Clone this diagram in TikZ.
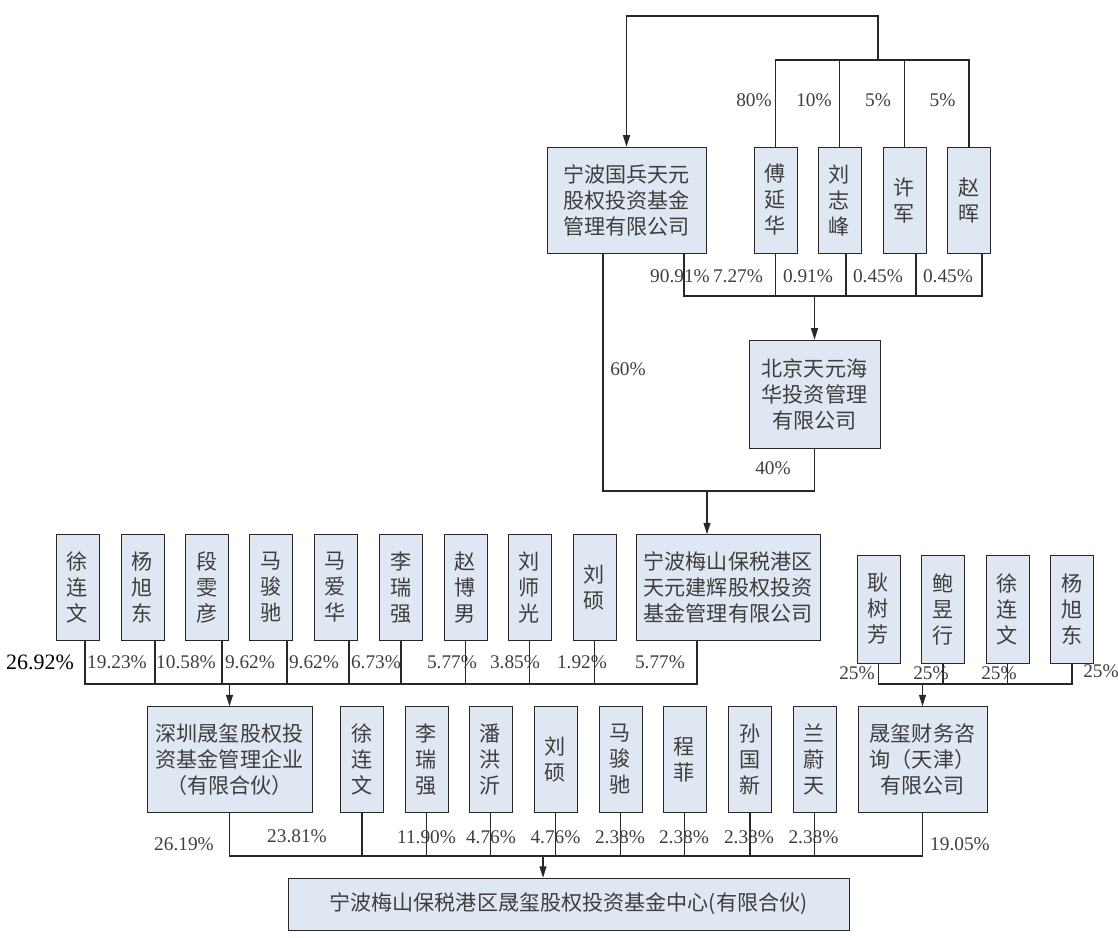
\documentclass[tikz,border=0pt]{standalone}
\usepackage{fontspec}
\setmainfont{Liberation Serif}
\newfontfamily\cjk{Noto Sans CJK SC}
\usetikzlibrary{arrows.meta}
\definecolor{boxfill}{RGB}{223,231,242}
\definecolor{linec}{RGB}{40,40,40}
\definecolor{txt}{RGB}{62,62,62}

\begin{document}
\begin{tikzpicture}[x=0.02cm, y=-0.02cm,
  box/.style={draw=linec, fill=boxfill, text=txt, font=\cjk\fontsize{12}{14.8}\selectfont, align=center, inner sep=0pt, minimum height=2.12cm},
  person/.style={box, minimum width=0.86cm},
  pct/.style={font=\fontsize{11}{13}\selectfont, text=txt, inner sep=0pt},
  link/.style={draw=linec, line width=0.6pt},
  arr/.style={link, -{Triangle[length=6.5pt,width=4pt]}}]
\useasboundingbox (0,0) rectangle (1118,937);

\node[box, minimum width=3.18cm] (gb) at (626.5,200) {宁波国兵天元\\股权投资基金\\管理有限公司};
\node[person] (fyh) at (775.5,200) {傅\\延\\华};
\node[person] (lzf) at (839.5,200) {刘\\志\\峰};
\node[person] (xj) at (904.5,200) {许\\军};
\node[person] (zh) at (969,200) {赵\\晖};
\node[box, minimum width=2.62cm, minimum height=2.16cm] (bj) at (814.5,394) {北京天元海\\华投资管理\\有限公司};

\node[person] (xlw1) at (77.5,587.5) {徐\\连\\文};
\node[person] (yxd1) at (142.5,587.5) {杨\\旭\\东};
\node[person] (dwy) at (207,587.5) {段\\雯\\彦};
\node[person] (mjc1) at (271,587.5) {马\\骏\\驰};
\node[person] (mah) at (335.5,587.5) {马\\爱\\华};
\node[person] (lrq1) at (401,587.5) {李\\瑞\\强};
\node[person] (zbn) at (465.5,587.5) {赵\\博\\男};
\node[person] (lsg) at (529.5,587.5) {刘\\师\\光};
\node[person] (ls1) at (594.5,587.5) {刘\\硕};
\node[box, minimum width=3.68cm] (jh) at (728,587.5) {宁波梅山保税港区\\天元建辉股权投资\\基金管理有限公司};

\node[person, minimum height=2.16cm] (gsf) at (878.5,609) {耿\\树\\芳};
\node[person, minimum height=2.16cm] (byx) at (943,609) {鲍\\昱\\行};
\node[person, minimum height=2.16cm] (xlw2) at (1007.5,609) {徐\\连\\文};
\node[person, minimum height=2.16cm] (yxd2) at (1072,609) {杨\\旭\\东};

\node[box, minimum width=3.3cm] (sz) at (229.5,759.5) {深圳晟玺股权投\\资基金管理企业\\（有限合伙）};
\node[person] (xlw3) at (362,759.5) {徐\\连\\文};
\node[person] (lrq2) at (426.5,759.5) {李\\瑞\\强};
\node[person] (phy) at (490.5,759.5) {潘\\洪\\沂};
\node[person] (ls2) at (555.5,759.5) {刘\\硕};
\node[person] (mjc2) at (620.5,759.5) {马\\骏\\驰};
\node[person] (cf) at (684.5,759.5) {程\\菲};
\node[person] (sgx) at (750,759.5) {孙\\国\\新};
\node[person] (lwt) at (814.5,759.5) {兰\\蔚\\天};
\node[box, minimum width=2.58cm] (cw) at (922.5,759.5) {晟玺财务咨\\询（天津）\\有限公司};

\node[box, minimum width=11.22cm, minimum height=1.04cm] (big) at (568.5,904) {宁波梅山保税港区晟玺股权投资基金中心(有限合伙)};

\coordinate (own) at (878,60);
\coordinate (top) at (878,16);
\coordinate (busA) at (814.5,296);
\coordinate (busB) at (707,491);
\coordinate (busC) at (229.5,684);
\coordinate (busD) at (922.5,684);
\coordinate (busE) at (543,856);

\draw[arr] (own) -- (top) -| (gb.north);
\draw[link] (fyh.north) |- (own) -| (zh.north);
\draw[link] (lzf.north) -- (lzf.north |- own);
\draw[link] (xj.north) -- (xj.north |- own);

\draw[link] (gb.south -| 684,0) -- (684,296) -- (982,296) -- (zh.south -| 982,0);
\draw[link] (fyh.south) -- (fyh.south |- busA);
\draw[link] (lzf.south -| 846,0) -- (846,296);
\draw[link] (xj.south -| 916,0) -- (916,296);
\draw[arr] (busA) -- (bj.north);

\draw[link] (gb.south -| 603,0) |- (busB) -| (bj.south);
\draw[arr] (busB) -- (jh.north -| busB);

\draw[link] (xlw1.south -| 85,0) -- (85,684) -- (697,684) -- (jh.south -| 697,0);
\draw[link] (yxd1.south -| 155,0) -- (155,684);
\draw[link] (dwy.south -| 222,0) -- (222,684);
\draw[link] (mjc1.south -| 287,0) -- (287,684);
\draw[link] (mah.south -| 349,0) -- (349,684);
\draw[link] (lrq1.south) -- (lrq1.south |- busC);
\draw[link] (zbn.south) -- (zbn.south |- busC);
\draw[link] (lsg.south) -- (lsg.south |- busC);
\draw[link] (ls1.south) -- (ls1.south |- busC);
\draw[arr] (busC) -- (sz.north);

\draw[link] (gsf.south) |- (busD) -| (yxd2.south);
\draw[link] (byx.south) -- (byx.south |- busD);
\draw[link] (xlw2.south) -- (xlw2.south |- busD);
\draw[arr] (busD) -- (cw.north);

\draw[link] (sz.south) |- (busE) -| (cw.south);
\draw[link] (xlw3.south) -- (xlw3.south |- busE);
\draw[link] (lrq2.south) -- (lrq2.south |- busE);
\draw[link] (phy.south) -- (phy.south |- busE);
\draw[link] (ls2.south) -- (ls2.south |- busE);
\draw[link] (mjc2.south) -- (mjc2.south |- busE);
\draw[link] (cf.south) -- (cf.south |- busE);
\draw[link] (sgx.south) -- (sgx.south |- busE);
\draw[link] (lwt.south) -- (lwt.south |- busE);
\draw[arr] (busE) -- (big.north -| busE);

\node[pct] (pa1) at (754,100) {80\%};
\node[pct] (pa2) at (814,100) {10\%};
\node[pct] (pa3) at (878,100) {5\%};
\node[pct] (pa4) at (942.5,100) {5\%};

\node[pct] (pb1) at (680,276) {90.91\%};
\node[pct] (pb2) at (738,276) {7.27\%};
\node[pct] (pb3) at (808,276) {0.91\%};
\node[pct] (pb4) at (878,276) {0.45\%};
\node[pct] (pb5) at (948,276) {0.45\%};
\node[pct] (pc1) at (628,369) {60\%};
\node[pct] (pc2) at (773,468) {40\%};

\node[pct, text=black, font=\fontsize{12.5}{14}\selectfont] (pd1) at (40,662) {26.92\%};
\node[pct] (pd2) at (117,662) {19.23\%};
\node[pct] (pd3) at (186,662) {10.58\%};
\node[pct] (pd4) at (250,662) {9.62\%};
\node[pct] (pd5) at (314,662) {9.62\%};
\node[pct] (pd6) at (376,662) {6.73\%};
\node[pct] (pd7) at (452,662) {5.77\%};
\node[pct] (pd8) at (515,662) {3.85\%};
\node[pct] (pd9) at (582,662) {1.92\%};
\node[pct] (pd10) at (660,662) {5.77\%};

\node[pct] (pe1) at (857,673) {25\%};
\node[pct] (pe2) at (931,673) {25\%};
\node[pct] (pe3) at (999,673) {25\%};
\node[pct] (pe4) at (1101,671) {25\%};

\node[pct] (pf1) at (184,844) {26.19\%};
\node[pct] (pf2) at (297,836) {23.81\%};
\node[pct] (pf3) at (426.5,837) {11.90\%};
\node[pct] (pf4) at (491,837) {4.76\%};
\node[pct] (pf5) at (555.5,837) {4.76\%};
\node[pct] (pf6) at (620,837) {2.38\%};
\node[pct] (pf7) at (684,837) {2.38\%};
\node[pct] (pf8) at (749,837) {2.38\%};
\node[pct] (pf9) at (813.5,837) {2.38\%};
\node[pct] (pf10) at (960,844) {19.05\%};
\end{tikzpicture}
\end{document}
